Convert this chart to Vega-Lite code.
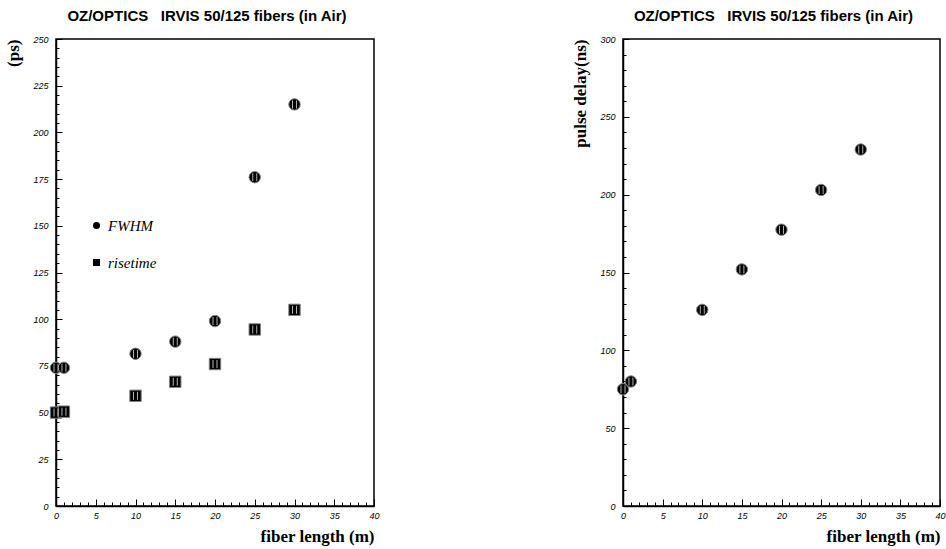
{
  "$schema": "https://vega.github.io/schema/vega-lite/v6.json",
  "background": "white",
  "padding": {"left": 4, "top": 8, "right": 2, "bottom": 2},
  "datasets": {
    "timing": [
      {"fiber": 0, "series": "FWHM", "value": 74},
      {"fiber": 1, "series": "FWHM", "value": 74},
      {"fiber": 10, "series": "FWHM", "value": 81.5},
      {"fiber": 15, "series": "FWHM", "value": 88},
      {"fiber": 20, "series": "FWHM", "value": 99},
      {"fiber": 25, "series": "FWHM", "value": 176},
      {"fiber": 30, "series": "FWHM", "value": 215},
      {"fiber": 0, "series": "risetime", "value": 50},
      {"fiber": 1, "series": "risetime", "value": 50.5},
      {"fiber": 10, "series": "risetime", "value": 59},
      {"fiber": 15, "series": "risetime", "value": 66.5},
      {"fiber": 20, "series": "risetime", "value": 76},
      {"fiber": 25, "series": "risetime", "value": 94.5},
      {"fiber": 30, "series": "risetime", "value": 105}
    ],
    "delay": [
      {"fiber": 0, "delay": 75},
      {"fiber": 1, "delay": 80},
      {"fiber": 10, "delay": 126},
      {"fiber": 15, "delay": 152},
      {"fiber": 20, "delay": 177.5},
      {"fiber": 25, "delay": 203},
      {"fiber": 30, "delay": 229}
    ]
  },
  "config": {
    "view": {"stroke": "black", "strokeWidth": 1.5},
    "axis": {
      "grid": false,
      "domainColor": "black",
      "domainWidth": 1.5,
      "tickColor": "black",
      "tickWidth": 1,
      "labelFont": "Liberation Sans",
      "labelFontStyle": "italic",
      "labelFontSize": 9,
      "labelColor": "black",
      "labelOverlap": false,
      "labelFlush": false,
      "titleFont": "Liberation Serif",
      "titleFontWeight": "bold",
      "titleFontSize": 17,
      "titleColor": "black"
    },
    "title": {"font": "Liberation Sans", "fontWeight": "bold", "fontSize": 15, "color": "black", "offset": 11, "dx": -8}
  },
  "spacing": 191,
  "hconcat": [
    {
      "width": 318,
      "height": 467,
      "title": {"text": "OZ/OPTICS\u00a0\u00a0 IRVIS 50/125 fibers (in Air)"},
      "data": {"name": "timing"},
      "encoding": {
        "x": {
          "field": "fiber", "type": "quantitative",
          "scale": {"domain": [0, 40], "nice": false, "zero": true},
          "axis": {
            "title": "fiber length (m)", "titleAnchor": "end", "titlePadding": 5,
            "values": [0,1,2,3,4,5,6,7,8,9,10,11,12,13,14,15,16,17,18,19,20,21,22,23,24,25,26,27,28,29,30,31,32,33,34,35,36,37,38,39,40],
            "labelExpr": "datum.value % 5 === 0 ? datum.label : ''",
            "tickSize": {"condition": {"test": "datum.value % 5 === 0", "value": -7}, "value": -4},
            "labelPadding": 12
          }
        },
        "y": {
          "field": "value", "type": "quantitative",
          "scale": {"domain": [0, 250], "nice": false, "zero": true},
          "axis": {
            "title": "(ps)", "titleAnchor": "end", "titlePadding": 10,
            "values": [0,5,10,15,20,25,30,35,40,45,50,55,60,65,70,75,80,85,90,95,100,105,110,115,120,125,130,135,140,145,150,155,160,165,170,175,180,185,190,195,200,205,210,215,220,225,230,235,240,245,250],
            "labelExpr": "datum.value % 25 === 0 ? datum.label : ''",
            "tickSize": {"condition": {"test": "datum.value % 25 === 0", "value": -6}, "value": -3},
            "labelPadding": 14
          }
        }
      },
      "layer": [
        {
          "mark": {"type": "point", "filled": true, "fill": "black", "stroke": "#808080", "strokeWidth": 1, "size": 130, "opacity": 1},
          "encoding": {
            "shape": {
              "field": "series", "type": "nominal",
              "scale": {"domain": ["FWHM", "risetime"], "range": ["circle", "square"]},
              "legend": {
                "orient": "none", "legendX": 33, "legendY": 179, "title": null,
                "symbolSize": 50, "symbolFillColor": "black", "symbolStrokeColor": "black", "symbolStrokeWidth": 0,
                "labelFont": "Liberation Serif", "labelFontStyle": "italic", "labelFontSize": 15, "labelColor": "black",
                "rowPadding": 21, "labelOffset": 4
              }
            }
          }
        },
        {"mark": {"type": "tick", "orient": "vertical", "color": "white", "size": 8, "thickness": 1, "xOffset": -2}, "encoding": {}},
        {"mark": {"type": "tick", "orient": "vertical", "color": "white", "size": 8, "thickness": 1, "xOffset": 2}, "encoding": {}}
      ]
    },
    {
      "width": 317,
      "height": 467,
      "title": {"text": "OZ/OPTICS\u00a0\u00a0 IRVIS 50/125 fibers (in Air)"},
      "data": {"name": "delay"},
      "encoding": {
        "x": {
          "field": "fiber", "type": "quantitative",
          "scale": {"domain": [0, 40], "nice": false, "zero": true},
          "axis": {
            "title": "fiber length (m)", "titleAnchor": "end", "titlePadding": 5,
            "values": [0,1,2,3,4,5,6,7,8,9,10,11,12,13,14,15,16,17,18,19,20,21,22,23,24,25,26,27,28,29,30,31,32,33,34,35,36,37,38,39,40],
            "labelExpr": "datum.value % 5 === 0 ? datum.label : ''",
            "tickSize": {"condition": {"test": "datum.value % 5 === 0", "value": -7}, "value": -4},
            "labelPadding": 12
          }
        },
        "y": {
          "field": "delay", "type": "quantitative",
          "scale": {"domain": [0, 300], "nice": false, "zero": true},
          "axis": {
            "title": "pulse delay(ns)", "titleAnchor": "end", "titlePadding": 10,
            "values": [0,10,20,30,40,50,60,70,80,90,100,110,120,130,140,150,160,170,180,190,200,210,220,230,240,250,260,270,280,290,300],
            "labelExpr": "datum.value % 50 === 0 ? datum.label : ''",
            "tickSize": {"condition": {"test": "datum.value % 50 === 0", "value": -6}, "value": -3},
            "labelPadding": 14
          }
        }
      },
      "layer": [
        {"mark": {"type": "point", "filled": true, "fill": "black", "stroke": "#808080", "strokeWidth": 1, "size": 130, "opacity": 1, "shape": "circle"}, "encoding": {}},
        {"mark": {"type": "tick", "orient": "vertical", "color": "white", "size": 8, "thickness": 1, "xOffset": -2}, "encoding": {}},
        {"mark": {"type": "tick", "orient": "vertical", "color": "white", "size": 8, "thickness": 1, "xOffset": 2}, "encoding": {}}
      ]
    }
  ]
}
